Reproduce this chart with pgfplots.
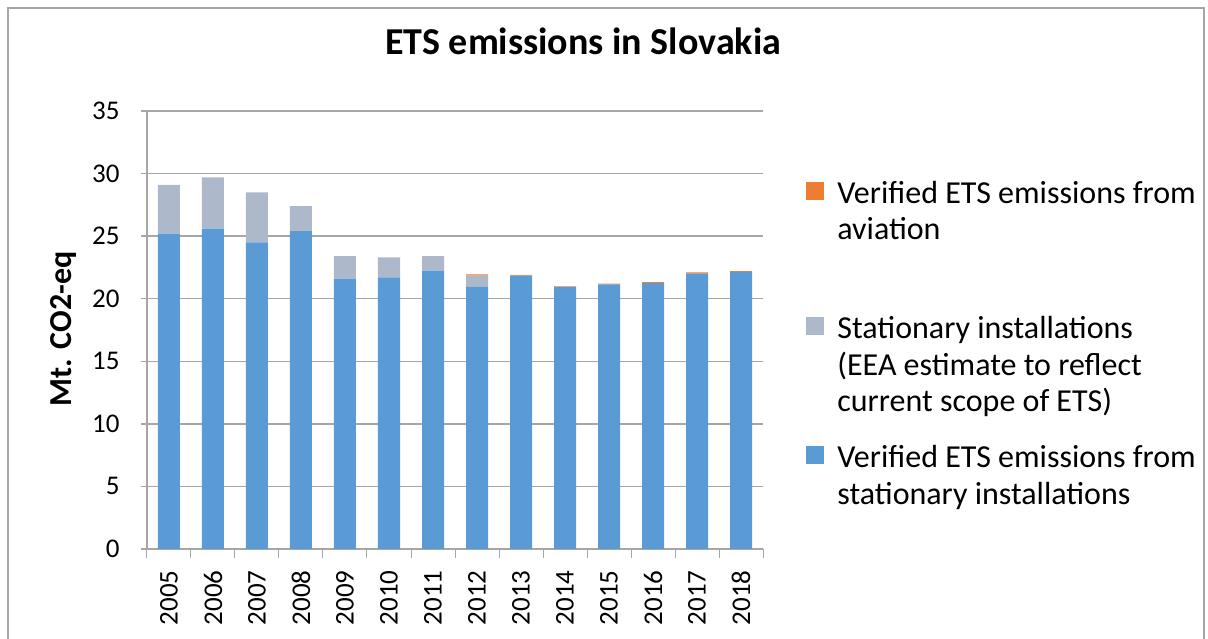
\documentclass[border=0pt]{standalone}
\usepackage{pgfplots}
\pgfplotsset{compat=1.18}
\usepackage{fontspec}
\setmainfont{Carlito}
\definecolor{cblue}{HTML}{5B9BD5}
\definecolor{cgray}{HTML}{ADB9CA}
\definecolor{corange}{HTML}{ED7D31}
\definecolor{cgrid}{HTML}{A6A6A6}
\newcommand\ls{\rule{0pt}{35pt}}
\begin{document}
\begin{tikzpicture}[x=1pt,y=1pt]
\begin{axis}[
  at={(0,0)}, anchor=south west,
  scale only axis, width=616pt, height=438pt,
  ybar stacked, bar width=22pt,
  xmin=-0.5, xmax=13.5, ymin=0, ymax=35,
  xtick={0,...,13},
  xticklabels={2005,2006,2007,2008,2009,2010,2011,2012,2013,2014,2015,2016,2017,2018},
  minor xtick={-0.5,0.5,...,13.5},
  ytick={0,5,...,35},
  tick align=outside,
  x tick label style={yshift=-12pt, rotate=90, anchor=east, font=\fontsize{27}{31}\selectfont},
  y tick label style={xshift=-18pt, font=\fontsize{27}{31}\selectfont},
  /pgf/number format/assume math mode=true,
  major x tick style={draw=none},
  minor x tick style={draw=cgrid, line width=1pt},
  minor tick length=9pt,
  major tick length=6pt,
  y tick style={draw=cgrid, line width=1.5pt},
  ymajorgrids, grid style={draw=cgrid, line width=1.5pt},
  axis x line*=bottom, axis y line*=left,
  axis line style={draw=cgrid, line width=1.5pt},
  separate axis lines,
  x axis line style={-}, y axis line style={-},
  title={\bfseries ETS emissions in Slovakia},
  title style={font=\fontsize{38}{44}\selectfont, at={(axis description cs:0.708,1.146)}, anchor=center},
  ylabel={\bfseries Mt. CO2-eq},
  ylabel style={font=\fontsize{32}{38}\selectfont, at={(axis description cs:-0.135,0.502)}, anchor=center},
  legend style={draw=none, fill=none, at={(axis description cs:1.0698,0.8584)}, anchor=north west,
    font=\fontsize{32}{37}\selectfont, row sep=0pt, inner sep=0pt, outer sep=0pt,
    nodes={inner sep=0pt, outer sep=0pt, anchor=base west}},
  legend cell align=left,
]
\addplot+[fill=cblue, draw=none, forget plot] coordinates {
(0,25.2) (1,25.6) (2,24.5) (3,25.4) (4,21.6) (5,21.7) (6,22.25) (7,20.95) (8,21.85) (9,20.95) (10,21.15) (11,21.25) (12,22.0) (13,22.15)};
\addplot+[fill=cgray, draw=none, forget plot] coordinates {
(0,3.9) (1,4.1) (2,4.0) (3,2.0) (4,1.8) (5,1.6) (6,1.15) (7,0.9) (8,0) (9,0) (10,0) (11,0) (12,0) (13,0)};
\addplot+[fill=corange, draw=none, forget plot] coordinates {
(0,0) (1,0) (2,0) (3,0) (4,0) (5,0) (6,0) (7,0.1) (8,0.05) (9,0.04) (10,0.05) (11,0.08) (12,0.1) (13,0.05)};
\addlegendimage{legend image code/.code={\fill[corange] (0pt,4pt) rectangle (17pt,21pt); \path (31pt,0pt);}}
\addlegendentry{\rule{0pt}{30pt}Verified ETS emissions from}
\addlegendimage{empty legend}
\addlegendentry{\ls aviation}
\addlegendimage{empty legend}
\addlegendentry{\rule{0pt}{61pt}}
\addlegendimage{legend image code/.code={\fill[cgray] (0pt,4pt) rectangle (17pt,21pt); \path (31pt,0pt);}}
\addlegendentry{\ls Stationary installations}
\addlegendimage{empty legend}
\addlegendentry{\ls (EEA estimate to reflect}
\addlegendimage{empty legend}
\addlegendentry{\ls current scope of ETS)}
\addlegendimage{empty legend}
\addlegendentry{\rule{0pt}{18pt}}
\addlegendimage{legend image code/.code={\fill[cblue] (0pt,4pt) rectangle (17pt,21pt); \path (31pt,0pt);}}
\addlegendentry{\ls Verified ETS emissions from}
\addlegendimage{empty legend}
\addlegendentry{\ls stationary installations}
\end{axis}
\draw[cgrid, line width=1.5pt] (-139,-95) -- (-139,541) -- (1057,541) -- (1057,-95);
\pgfresetboundingbox
\useasboundingbox (-147,-90) rectangle (1061,549);
\end{tikzpicture}
\end{document}
